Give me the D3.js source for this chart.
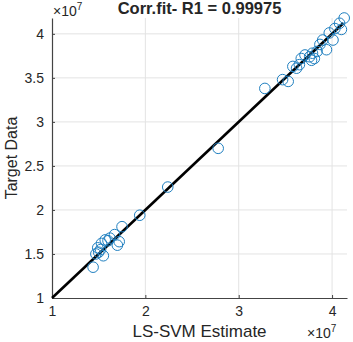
<!DOCTYPE html>
<html>
<head>
<meta charset="utf-8">
<script src="https://cdn.jsdelivr.net/npm/d3@7"></script>
<style>
  body { margin: 0; background: #fff; }
  svg text { font-family: "Liberation Sans", Arial, sans-serif; fill: #262626; }
</style>
</head>
<body>
<div id="chart"></div>
<script>
// values in units of 1e7
const estimate = [1.44, 1.47, 1.50, 1.49, 1.52, 1.53, 1.57, 1.60, 1.62, 1.67, 1.70, 1.72, 1.75, 1.55,
                  1.94, 2.24, 2.78, 3.28, 3.47, 3.53, 3.62, 3.65, 3.67, 3.71, 3.78, 3.79, 3.84,
                  4.13, 4.08, 4.10, 4.03, 3.97, 4.01, 3.90, 3.87, 3.94, 3.81, 3.76, 3.58];
const target   = [1.35, 1.50, 1.52, 1.57, 1.55, 1.62, 1.66, 1.65, 1.68, 1.72, 1.60, 1.64, 1.81, 1.48,
                  1.94, 2.26, 2.70, 3.38, 3.48, 3.46, 3.61, 3.65, 3.72, 3.76, 3.70, 3.78, 3.80,
                  4.18, 4.12, 4.05, 4.06, 4.01, 3.93, 3.93, 3.88, 3.82, 3.72, 3.74, 3.63];
const fitLine = [1, 4.12];
const xTicks = [1, 2, 3, 4];
const yTicks = [1, 1.5, 2, 2.5, 3, 3.5, 4];

const W = 353, H = 342;
const m = {top: 18, right: 6, bottom: 44, left: 52};
const iw = W - m.left - m.right, ih = H - m.top - m.bottom;

const svg = d3.select("#chart").append("svg").attr("width", W).attr("height", H);
const g = svg.append("g").attr("transform", `translate(${m.left},${m.top})`);

const x = d3.scaleLinear().domain([1, 4.16]).range([0, iw]);
const y = d3.scaleLinear().domain([1, 4.18]).range([ih, 0]);

// grid
g.append("g").selectAll("line").data(xTicks.slice(1)).join("line")
  .attr("x1", d => x(d)).attr("x2", d => x(d)).attr("y1", 0).attr("y2", ih)
  .attr("stroke", "#e3e3e3");
g.append("g").selectAll("line").data(yTicks.slice(1)).join("line")
  .attr("y1", d => y(d)).attr("y2", d => y(d)).attr("x1", 0).attr("x2", iw)
  .attr("stroke", "#e3e3e3");

// axes
const xAxis = g.append("g").attr("transform", `translate(0,${ih})`)
  .call(d3.axisBottom(x).tickValues(xTicks).tickSize(-3).tickPadding(8).tickSizeOuter(0).tickFormat(d3.format("d")));
const yAxis = g.append("g")
  .call(d3.axisLeft(y).tickValues(yTicks).tickSize(-3).tickPadding(8).tickSizeOuter(0).tickFormat(d => d));
[xAxis, yAxis].forEach(a => {
  a.select(".domain").attr("stroke", "#444").attr("stroke-width", 1.2);
  a.selectAll(".tick line").attr("stroke", "#444");
  a.selectAll(".tick text").attr("font-size", 14).attr("fill", "#262626")
    .attr("font-family", "Liberation Sans, Arial, sans-serif");
});

// fit line
g.append("line")
  .attr("x1", x(fitLine[0])).attr("y1", y(fitLine[0]))
  .attr("x2", x(fitLine[1])).attr("y2", y(fitLine[1]))
  .attr("stroke", "#000").attr("stroke-width", 2.6);

// points
g.append("g").selectAll("circle").data(estimate).join("circle")
  .attr("cx", d => x(d)).attr("cy", (d, i) => y(target[i])).attr("r", 5.3)
  .attr("fill", "none").attr("stroke", "#1f7fc0").attr("stroke-width", 1);

// title
svg.append("text").attr("x", m.left + iw / 2).attr("y", 14).attr("text-anchor", "middle")
  .attr("font-size", 16.5).attr("font-weight", "bold").attr("fill", "#000")
  .text("Corr.fit- R1 = 0.99975");

// exponent labels
function expLabel(px, py) {
  const t = svg.append("text").attr("x", px).attr("y", py).attr("font-size", 14);
  t.append("tspan").text("\u00d710");
  t.append("tspan").attr("dy", -6).attr("font-size", 10).text("7");
}
expLabel(53, 16);
expLabel(307, 338);

// axis labels
svg.append("text").attr("x", m.left + iw / 2).attr("y", 337).attr("text-anchor", "middle")
  .attr("font-size", 17).text("LS-SVM Estimate");
svg.append("text").attr("transform", `translate(17,${m.top + ih / 2}) rotate(-90)`)
  .attr("text-anchor", "middle").attr("font-size", 16).text("Target Data");
</script>
</body>
</html>
